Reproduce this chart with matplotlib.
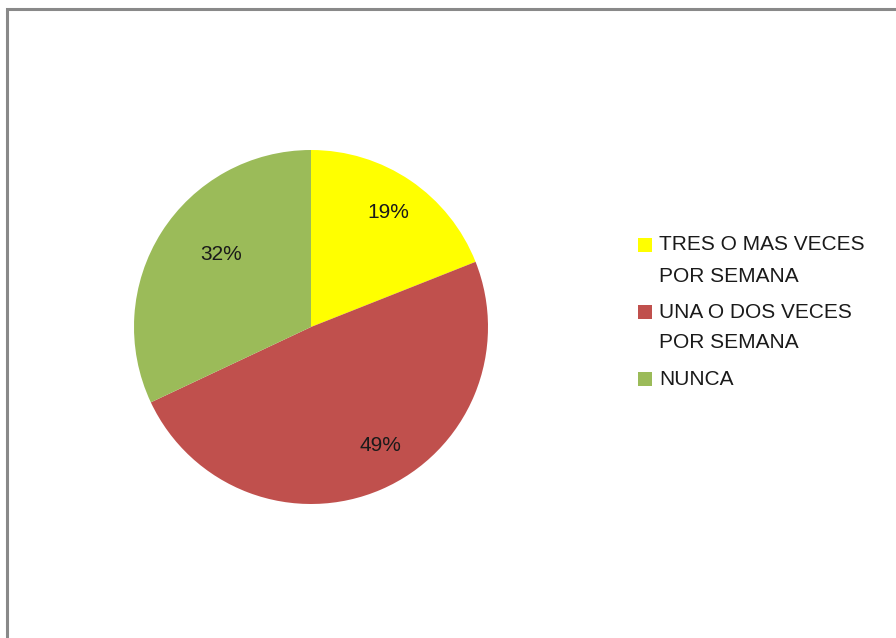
import matplotlib
matplotlib.use("Agg")
import matplotlib.pyplot as plt
from matplotlib.patches import Rectangle

categories = ["TRES O MAS VECES\nPOR SEMANA", "UNA O DOS VECES\nPOR SEMANA", "NUNCA"]
values = [19, 49, 32]
colors = ["#FFFF00", "#C0504D", "#9BBB59"]

plt.rcParams["font.family"] = ["Liberation Sans", "DejaVu Sans"]

W, H = 896, 638
fig = plt.figure(figsize=(W / 100, H / 100), dpi=100)
fig.patch.set_facecolor("white")

# chart frame
fig.patches.append(Rectangle((7 / W, -0.05), 1.1, (H - 9) / H + 0.05,
                             transform=fig.transFigure, fill=False,
                             edgecolor="#898989", linewidth=2.2))

cx, cy, r = 311, 327, 177
ax = fig.add_axes([(cx - r) / W, (H - cy - r) / H, 2 * r / W, 2 * r / H])
wedges, texts, autotexts = ax.pie(
    values, colors=colors, startangle=90, counterclock=False,
    autopct=lambda p: f"{p:.0f}%", pctdistance=0.78,
    textprops=dict(fontsize=15, color="#1a1a1a"),
    wedgeprops=dict(linewidth=0))
autotexts[1].set_position((0.39, -0.67))
autotexts[2].set_position((-0.51, 0.41))
ax.set_xlim(-1, 1)
ax.set_ylim(-1, 1)
ax.set_aspect("equal")

# legend: square key beside the first line of each wrapped label
line_h, entry_gap = 31, 5
y = 245
for label, c in zip(categories, colors):
    fig.patches.append(Rectangle((638 / W, 1 - (y + 7) / H), 14 / W, 14 / H,
                                 transform=fig.transFigure,
                                 facecolor=c, edgecolor="none"))
    for line in label.split("\n"):
        fig.text(659 / W, 1 - y / H, line, fontsize=15, color="#1a1a1a",
                 ha="left", va="center")
        y += line_h
    y += entry_gap

fig.savefig("out.png", dpi=100)
